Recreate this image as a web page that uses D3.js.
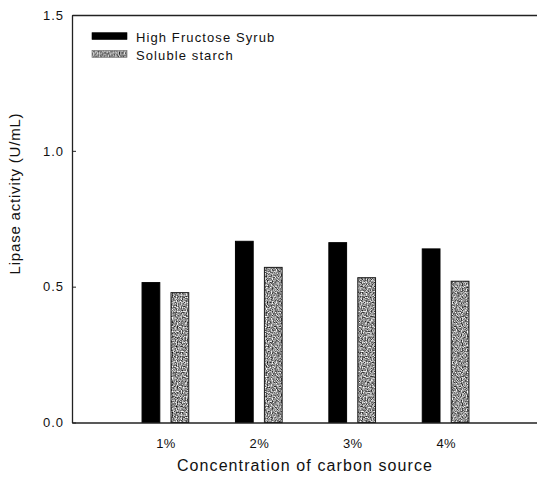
<!DOCTYPE html>
<html>
<head>
<meta charset="utf-8">
<script src="https://cdn.jsdelivr.net/npm/d3@7"></script>
<style>
  html, body { margin: 0; padding: 0; background: #fff; }
  svg { display: block; }
  text { font-family: "Liberation Sans", Arial, Helvetica, sans-serif; fill: #111; }
</style>
</head>
<body>
<svg id="chart" width="537" height="484"></svg>
<script>
// Lipase activity by carbon source concentration
const categories = ["1%", "2%", "3%", "4%"];
const seriesNames = ["High Fructose Syrub", "Soluble starch"];
const fructoseValues = [0.515, 0.667, 0.662, 0.639];
const starchValues = [0.478, 0.571, 0.533, 0.520];
const yTicks = [0.0, 0.5, 1.0, 1.5];
const yTickLabels = ["0.0", "0.5", "1.0", "1.5"];

const svg = d3.select("#chart");
const plotLeft = 72, plotTop = 15, plotBottom = 422.5, plotRight = 539;

// x: category positions 1..4 on a 0..5 linear axis
const x = d3.scaleLinear().domain([0, 5]).range([plotLeft, plotRight]);
const y = d3.scaleLinear().domain([0, 1.5]).range([plotBottom, plotTop]);

// stippled grey texture for the starch bars
const defs = svg.append("defs");
const noise = defs.append("filter").attr("id", "grain")
  .attr("x", 0).attr("y", 0).attr("width", 60).attr("height", 60)
  .attr("filterUnits", "userSpaceOnUse")
  .attr("color-interpolation-filters", "sRGB");
noise.append("feTurbulence").attr("type", "fractalNoise")
  .attr("baseFrequency", 0.8).attr("numOctaves", 1).attr("seed", 3).attr("result", "n");
noise.append("feColorMatrix").attr("type", "matrix")
  .attr("values", "1.8 0 0 0 -0.33  1.8 0 0 0 -0.33  1.8 0 0 0 -0.33  0 0 0 0 1");
const pat = defs.append("pattern").attr("id", "stipple")
  .attr("patternUnits", "userSpaceOnUse").attr("width", 60).attr("height", 60);
pat.append("rect").attr("width", 60).attr("height", 60).attr("fill", "#999")
  .attr("filter", "url(#grain)");

const series = [
  { name: seriesNames[0], values: fructoseValues, off: [-0.25, -0.06], fill: "#000", stroke: "#000" },
  { name: seriesNames[1], values: starchValues, off: [0.06, 0.25], fill: "url(#stipple)", stroke: "#1a1a1a" }
];

// bars
series.forEach(s => {
  svg.append("g").selectAll("rect").data(s.values).join("rect")
    .attr("x", (d, i) => x(i + 1 + s.off[0]))
    .attr("width", (d, i) => x(i + 1 + s.off[1]) - x(i + 1 + s.off[0]))
    .attr("y", d => y(d))
    .attr("height", d => y(0) - y(d))
    .attr("fill", s.fill)
    .attr("stroke", s.stroke)
    .attr("stroke-width", 1);
});

// axes
const axisStyle = g => {
  g.select(".domain").attr("stroke", "#222").attr("stroke-width", 1.3);
  g.selectAll(".tick line").attr("stroke", "#222");
  g.selectAll("text").attr("font-family", null).attr("fill", "#111");
};

svg.append("g").attr("transform", `translate(0,${plotBottom})`)
  .call(d3.axisBottom(x).tickValues([1, 2, 3, 4])
    .tickFormat((d, i) => categories[i]).tickSize(0).tickPadding(16.5))
  .call(axisStyle)
  .call(g => g.selectAll("text").attr("font-size", 13).attr("letter-spacing", "0.3px"));

svg.append("g").attr("transform", `translate(0,${plotTop})`)
  .call(d3.axisTop(x).tickValues([]).tickSizeOuter(0))
  .call(axisStyle);

svg.append("g").attr("transform", `translate(${plotLeft},0)`)
  .call(d3.axisLeft(y).tickValues(yTicks).tickFormat((d, i) => yTickLabels[i])
    .tickSizeInner(-4).tickSizeOuter(0).tickPadding(8))
  .call(axisStyle)
  .call(g => g.selectAll("text").attr("font-size", 13).attr("letter-spacing", "1px"));

// axis titles
svg.append("text")
  .attr("x", 305).attr("y", 470.7)
  .attr("text-anchor", "middle")
  .attr("font-size", 16).attr("letter-spacing", "1.1px")
  .text("Concentration of carbon source");

svg.append("text")
  .attr("transform", "translate(20,193.5) rotate(-90)")
  .attr("text-anchor", "middle")
  .attr("font-size", 15).attr("letter-spacing", "0.8px")
  .text("Lipase activity (U/mL)");

// legend
const legend = svg.append("g").attr("transform", "translate(92,32.7)");
series.forEach((s, i) => {
  const row = legend.append("g").attr("transform", `translate(0,${i * 17.8})`);
  row.append("rect").attr("width", 35).attr("height", 6.8)
    .attr("fill", s.fill).attr("stroke", i ? "#666" : "#000").attr("stroke-width", 0.6);
  row.append("text").attr("x", 44).attr("y", 9)
    .attr("font-size", 13).attr("letter-spacing", "1.1px")
    .text(s.name);
});
</script>
</body>
</html>
